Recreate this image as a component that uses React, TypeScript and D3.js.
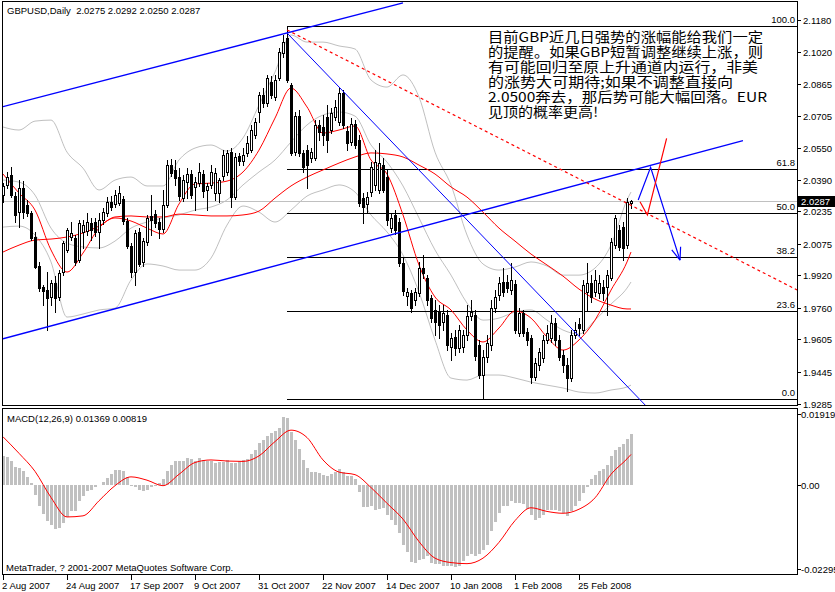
import React from "react";
import * as d3 from "d3";

// ---------- price data (GBPUSD daily) ----------
const open = [2.0316,2.0366,2.0415,2.0311,2.0232,2.0351,2.0267,2.0227,2.0109,1.9966,
1.9862,1.9847,1.9813,1.9882,1.9813,1.9936,2.0045,2.0109,2.0104,1.9995,
2.0134,2.0139,2.0178,2.0183,2.0134,2.0193,2.0227,2.0282,2.0272,2.0277,
2.0296,2.0188,2.0064,1.9936,2.0134,1.9986,2.0084,2.0213,2.0222,2.0183,
2.0148,2.0267,2.0464,2.0440,2.0405,2.0301,2.0380,2.0420,2.0356,2.0375,
2.0420,2.0341,2.0366,2.0326,2.0326,2.0410,2.0430,2.0528,2.0306,2.0509,
2.0484,2.0524,2.0538,2.0612,2.0726,2.0810,2.0770,2.0874,2.0800,2.0894,
2.1017,2.1091,2.0859,2.0528,2.0706,2.0524,2.0538,2.0499,2.0499,2.0662,
2.0652,2.0701,2.0637,2.0701,2.0677,2.0820,2.0632,2.0578,2.0667,2.0588,
2.0301,2.0272,2.0331,2.0366,2.0341,2.0464,2.0405,2.0153,2.0218,2.0183,
1.9981,1.9818,1.9833,1.9798,1.9833,1.9956,1.9907,1.9808,1.9749,1.9739,
1.9689,1.9724,1.9566,1.9615,1.9561,1.9566,1.9625,1.9719,1.9724,1.9576,
1.9428,1.9517,1.9576,1.9758,1.9823,1.9887,1.9887,1.9847,1.9877,1.9635,
1.9734,1.9640,1.9610,1.9418,1.9477,1.9512,1.9601,1.9610,1.9684,1.9601,
1.9526,1.9477,1.9413,1.9625,1.9680,1.9650,1.9837,1.9882,1.9837,1.9833,
1.9862,1.9862,1.9907,2.0069,2.0144,2.0158,2.0069,2.0275];
const high = [2.0375,2.0430,2.0454,2.0331,2.0390,2.0385,2.0292,2.0237,2.0134,1.9986,
1.9872,1.9936,1.9897,1.9916,1.9946,2.0089,2.0153,2.0183,2.0119,2.0193,
2.0193,2.0227,2.0203,2.0203,2.0227,2.0252,2.0306,2.0311,2.0341,2.0361,
2.0311,2.0203,2.0079,2.0144,2.0153,2.0104,2.0218,2.0316,2.0242,2.0203,
2.0341,2.0489,2.0494,2.0489,2.0449,2.0415,2.0449,2.0440,2.0405,2.0474,
2.0440,2.0375,2.0464,2.0449,2.0400,2.0538,2.0538,2.0548,2.0524,2.0524,
2.0548,2.0607,2.0662,2.0696,2.0825,2.0844,2.0909,2.0904,2.0909,2.1042,
2.1106,2.1150,2.0869,2.0726,2.0736,2.0538,2.0563,2.0548,2.0686,2.0686,
2.0711,2.0760,2.0746,2.0785,2.0844,2.0834,2.0657,2.0696,2.0686,2.0612,
2.0326,2.0331,2.0479,2.0538,2.0573,2.0499,2.0440,2.0222,2.0242,2.0203,
2.0005,1.9857,1.9847,1.9857,1.9986,2.0020,1.9921,1.9823,1.9798,1.9773,
1.9773,1.9749,1.9635,1.9650,1.9675,1.9650,1.9773,1.9798,1.9749,1.9601,
1.9551,1.9625,1.9798,1.9847,1.9911,1.9956,1.9921,1.9981,1.9897,1.9758,
1.9749,1.9660,1.9625,1.9512,1.9561,1.9625,1.9675,1.9724,1.9709,1.9625,
1.9551,1.9512,1.9650,1.9689,1.9709,1.9897,1.9981,1.9921,1.9946,1.9921,
1.9897,1.9946,2.0104,2.0218,2.0168,2.0183,2.0301,2.0292];
const low = [2.0282,2.0351,2.0306,2.0183,2.0158,2.0203,2.0213,2.0094,1.9956,1.9842,
1.9773,1.9650,1.9773,1.9739,1.9798,1.9921,2.0035,2.0094,1.9971,1.9986,
2.0055,2.0119,2.0094,2.0114,2.0055,2.0173,2.0213,2.0242,2.0257,2.0267,
2.0173,2.0055,1.9911,1.9872,1.9966,1.9966,2.0069,2.0119,2.0158,2.0104,
2.0134,2.0257,2.0410,2.0366,2.0292,2.0287,2.0301,2.0301,2.0242,2.0361,
2.0306,2.0242,2.0351,2.0292,2.0282,2.0390,2.0415,2.0257,2.0296,2.0464,
2.0464,2.0509,2.0528,2.0598,2.0677,2.0751,2.0756,2.0795,2.0785,2.0884,
2.0997,2.0874,2.0514,2.0514,2.0509,2.0430,2.0351,2.0479,2.0489,2.0588,
2.0563,2.0528,2.0622,2.0686,2.0662,2.0647,2.0538,2.0563,2.0548,2.0262,
2.0178,2.0232,2.0311,2.0341,2.0326,2.0331,2.0168,2.0134,2.0124,1.9966,
1.9823,1.9773,1.9739,1.9773,1.9818,1.9907,1.9773,1.9689,1.9625,1.9610,
1.9650,1.9551,1.9502,1.9526,1.9541,1.9541,1.9601,1.9699,1.9502,1.9413,
1.9310,1.9492,1.9551,1.9739,1.9798,1.9818,1.9837,1.9828,1.9635,1.9620,
1.9620,1.9576,1.9388,1.9403,1.9452,1.9492,1.9586,1.9591,1.9576,1.9502,
1.9443,1.9349,1.9398,1.9610,1.9625,1.9635,1.9749,1.9788,1.9818,1.9808,
1.9798,1.9724,1.9897,2.0055,2.0045,1.9995,2.0055,2.0250];
const close = [2.0361,2.0405,2.0316,2.0218,2.0351,2.0232,2.0227,2.0104,1.9961,1.9857,
1.9842,1.9808,1.9882,1.9808,1.9931,2.0079,2.0144,2.0129,1.9986,2.0178,
2.0168,2.0183,2.0144,2.0134,2.0193,2.0232,2.0282,2.0257,2.0316,2.0326,
2.0188,2.0064,1.9936,2.0129,1.9976,2.0089,2.0203,2.0193,2.0178,2.0148,
2.0267,2.0464,2.0425,2.0400,2.0311,2.0390,2.0420,2.0316,2.0380,2.0430,
2.0336,2.0361,2.0430,2.0425,2.0390,2.0514,2.0524,2.0306,2.0504,2.0484,
2.0514,2.0573,2.0637,2.0677,2.0810,2.0770,2.0894,2.0810,2.0884,2.1022,
2.1071,2.0884,2.0524,2.0706,2.0524,2.0454,2.0464,2.0528,2.0662,2.0627,
2.0612,2.0588,2.0721,2.0751,2.0820,2.0662,2.0573,2.0667,2.0563,2.0277,
2.0257,2.0306,2.0454,2.0479,2.0474,2.0341,2.0193,2.0203,2.0144,1.9981,
1.9842,1.9837,1.9758,1.9837,1.9956,1.9931,1.9798,1.9709,1.9689,1.9675,
1.9734,1.9576,1.9610,1.9561,1.9650,1.9625,1.9719,1.9739,1.9522,1.9428,
1.9517,1.9586,1.9758,1.9813,1.9882,1.9837,1.9857,1.9897,1.9650,1.9734,
1.9635,1.9601,1.9418,1.9487,1.9541,1.9601,1.9635,1.9684,1.9601,1.9517,
1.9477,1.9413,1.9625,1.9650,1.9660,1.9872,1.9882,1.9813,1.9897,1.9882,
1.9833,1.9921,2.0084,2.0203,2.0060,2.0055,2.0282,2.0287];

// ---------- indicators, sampled at these bar indices ----------
const sampleIdx = [0,4,8,12,16,20,24,28,32,36,40,44,48,52,56,60,64,68,72,76,80,84,88,92,96,100,104,108,112,116,120,124,128,132,136,140,144,148,152,156,157];
const fastMA = [2.0420,2.0326,2.0242,2.0045,1.9936,2.0030,2.0153,2.0203,2.0188,2.0153,2.0124,2.0272,2.0371,2.0375,2.0385,2.0430,2.0538,2.0696,2.0844,2.0751,2.0622,2.0637,2.0657,2.0489,2.0420,2.0218,1.9971,1.9813,1.9749,1.9650,1.9591,1.9660,1.9744,1.9709,1.9615,1.9551,1.9601,1.9699,1.9847,1.9986,2.0035];
const slowMA = [2.0035,2.0069,2.0094,2.0099,2.0109,2.0129,2.0163,2.0208,2.0213,2.0208,2.0208,2.0222,2.0218,2.0213,2.0213,2.0218,2.0237,2.0301,2.0361,2.0405,2.0440,2.0474,2.0504,2.0524,2.0519,2.0504,2.0464,2.0420,2.0356,2.0306,2.0232,2.0153,2.0089,2.0025,1.9971,1.9916,1.9852,1.9803,1.9773,1.9754,1.9754];
const bbUpper = [2.0652,2.0637,2.0681,2.0686,2.0528,2.0449,2.0341,2.0390,2.0405,2.0361,2.0361,2.0489,2.0548,2.0563,2.0533,2.0598,2.0760,2.0923,2.1106,2.1071,2.1071,2.1052,2.1037,2.0884,2.0849,2.0909,2.0800,2.0528,2.0366,2.0119,1.9976,1.9946,1.9961,1.9986,1.9966,1.9921,1.9921,1.9956,2.0069,2.0292,2.0331];
const bbMiddle = [2.0390,2.0380,2.0316,2.0153,2.0079,2.0060,2.0055,2.0089,2.0153,2.0183,2.0203,2.0218,2.0242,2.0257,2.0292,2.0366,2.0430,2.0489,2.0578,2.0662,2.0711,2.0726,2.0706,2.0563,2.0479,2.0361,2.0203,2.0045,1.9921,1.9783,1.9699,1.9709,1.9739,1.9749,1.9699,1.9650,1.9630,1.9699,1.9778,1.9857,1.9887];
const bbLower = [2.0158,2.0163,2.0119,1.9986,1.9714,1.9729,1.9749,1.9758,1.9897,1.9976,1.9966,1.9946,1.9946,2.0005,2.0168,2.0262,2.0232,2.0183,2.0242,2.0311,2.0341,2.0366,2.0331,2.0218,2.0134,2.0020,1.9837,1.9601,1.9413,1.9403,1.9428,1.9428,1.9413,1.9393,1.9378,1.9364,1.9344,1.9339,1.9354,1.9369,1.9378];

const macdHist = [0.0077,0.0075,0.0063,0.0047,0.0045,0.0036,0.0021,0.0005,-0.0027,-0.0057,
-0.0079,-0.0100,-0.0111,-0.0121,-0.0118,-0.0104,-0.0088,-0.0073,-0.0073,-0.0045,
-0.0032,-0.0018,-0.0014,-0.0006,0.0000,0.0006,0.0018,0.0030,0.0039,0.0041,
0.0036,0.0021,-0.0003,-0.0006,-0.0014,-0.0018,-0.0014,-0.0006,-0.0003,0.0005,
0.0014,0.0036,0.0052,0.0063,0.0063,0.0065,0.0073,0.0070,0.0063,0.0073,
0.0068,0.0063,0.0063,0.0059,0.0061,0.0062,0.0066,0.0059,0.0059,0.0065,
0.0066,0.0070,0.0084,0.0095,0.0113,0.0122,0.0131,0.0140,0.0145,0.0154,
0.0184,0.0181,0.0143,0.0122,0.0097,0.0068,0.0045,0.0034,0.0034,0.0032,
0.0027,0.0024,0.0030,0.0034,0.0043,0.0034,0.0023,0.0023,0.0014,-0.0021,
-0.0061,-0.0061,-0.0057,-0.0068,-0.0066,-0.0063,-0.0084,-0.0097,-0.0111,-0.0131,
-0.0163,-0.0184,-0.0210,-0.0213,-0.0204,-0.0202,-0.0195,-0.0213,-0.0216,-0.0216,
-0.0220,-0.0220,-0.0222,-0.0224,-0.0220,-0.0207,-0.0193,-0.0190,-0.0195,-0.0190,
-0.0177,-0.0163,-0.0127,-0.0102,-0.0077,-0.0059,-0.0059,-0.0045,-0.0050,-0.0050,
-0.0054,-0.0066,-0.0082,-0.0095,-0.0091,-0.0082,-0.0068,-0.0068,-0.0068,-0.0073,
-0.0077,-0.0086,-0.0073,-0.0057,-0.0045,-0.0023,-0.0006,0.0015,0.0027,0.0036,
0.0043,0.0054,0.0077,0.0095,0.0102,0.0109,0.0125,0.01369];
const macdSignal = [0.0130,0.0085,0.0036,-0.0035,-0.0088,-0.0085,-0.0044,-0.0003,0.0021,0.0012,-0.0003,0.0028,0.0060,0.0067,0.0064,0.0063,0.0078,0.0117,0.0148,0.0128,0.0067,0.0034,0.0027,-0.0008,-0.0051,-0.0094,-0.0155,-0.0200,-0.0212,-0.0215,-0.0200,-0.0157,-0.0098,-0.0063,-0.0073,-0.0078,-0.0067,-0.0036,0.0028,0.0070,0.00819];

// ---------- axes ----------
const priceTicks = [2.1180,2.1020,2.0865,2.0705,2.0550,2.0390,2.0235,2.0075,1.9920,1.9760,1.9605,1.9445,1.9285];
const priceTickLabels = ["2.1180","2.1020","2.0865","2.0705","2.0550","2.0390","2.0235","2.0075","1.9920","1.9760","1.9605","1.9445","1.9285"];
const macdTicks = [0.01919, 0, -0.02295];
const macdTickLabels = ["0.01919","0.00","-0.02295"];
const dateIdx = [0,16,32,48,64,80,96,112,128,144];
const dateLabels = ["2 Aug 2007","24 Aug 2007","17 Sep 2007","9 Oct 2007","31 Oct 2007","22 Nov 2007","14 Dec 2007","10 Jan 2008","1 Feb 2008","25 Feb 2008"];
const lastPrice = 2.0287;
const lastPriceLabel = "2.0287";

// ---------- drawn objects (bar index, price) ----------
const fibLevels = [0, 23.6, 38.2, 50, 61.8, 100];
const fibLabels = ["0.0","23.6","38.2","50.0","61.8","100.0"];
const channelUpper = [[0, 2.0752], [100, 2.1265]];
const channelLower = [[0, 1.9607], [185, 2.0585]];
const downTrend = [[71, 2.1116], [162, 1.9250]];
const redDotted = [[71, 2.1131], [198.5, 1.9848]];
const blueArrow = [[158.8, 2.0292], [161.9, 2.0453], [169.25, 1.9995]];
const blueArrowHeadA = [[167.2, 2.0045], [169.25, 1.9995]];
const blueArrowHeadB = [[169.4, 2.0061], [169.25, 1.9995]];
const redArrow = [[159.25, 2.0283], [161.1, 2.0218], [165.9, 2.0596]];

const titleText = "GBPUSD,Daily  2.0275 2.0292 2.0250 2.0287";
const macdTitle = "MACD(12,26,9) 0.01369 0.00819";
const copyright = "MetaTrader, ? 2001-2007 MetaQuotes Software Corp.";
const noteLines = [
  "目前GBP近几日强势的涨幅能给我们一定",
  "的提醒。如果GBP短暂调整继续上涨，则",
  "有可能回归至原上升通道内运行，非美",
  "的涨势大可期待;如果不调整直接向",
  "2.0500奔去，那后势可能大幅回落。EUR",
  "见顶的概率更高!",
];
const noteWidths = [275, 275, 270, 245, 279, 110];

const FONT = "'Liberation Sans', Arial, sans-serif";

export default function App() {
  const x = d3.scaleLinear().domain([0, 198.5]).range([3, 797]);
  const y = d3.scaleLinear().domain([1.9285, 2.118]).range([404, 20]);
  const ym = d3.scaleLinear().domain([-0.02295, 0.01919]).range([569, 414]);

  const ln = d3.line<number[]>().x(d => x(d[0])).y(d => y(d[1]));
  const smooth = (vals: number[]) =>
    d3.line<number>().x((_, k) => x(sampleIdx[k])).y(d => y(d)).curve(d3.curveMonotoneX)(vals) || "";
  const sig = d3.line<number>().x((_, k) => x(sampleIdx[k])).y(d => ym(d)).curve(d3.curveMonotoneX)(macdSignal) || "";

  const hiVal = d3.max(high) as number;
  const loVal = d3.min(low) as number;
  const hiIdx = high.indexOf(hiVal);

  return (
    <svg width={835} height={592} style={{ position: "absolute", left: 0, top: 0, background: "#fff" }}
      fontFamily={FONT}>
      <defs>
        <clipPath id="mainClip"><rect x={3} y={2} width={794} height={403} /></clipPath>
        <clipPath id="macdClip"><rect x={3} y={409} width={794} height={165} /></clipPath>
      </defs>
      <rect x={0} y={0} width={835} height={592} fill="#fff" />

      <g clipPath="url(#mainClip)">
        <line x1={3} x2={797} y1={Math.round(y(lastPrice)) + 0.5} y2={Math.round(y(lastPrice)) + 0.5} stroke="#c0c0c0" shapeRendering="crispEdges" />
        <path d={smooth(bbUpper)} fill="none" stroke="#c0c0c0" />
        <path d={smooth(bbMiddle)} fill="none" stroke="#c0c0c0" />
        <path d={smooth(bbLower)} fill="none" stroke="#c0c0c0" />
        {fibLevels.map((lv, k) => {
          const p = loVal + (hiVal - loVal) * lv / 100;
          const yy = Math.round(y(p)) + 0.5;
          return <line key={k} x1={x(hiIdx)} x2={797} y1={yy} y2={yy} stroke="#000" shapeRendering="crispEdges" />;
        })}
        <path d={smooth(slowMA)} fill="none" stroke="#ff0000" />
        <path d={smooth(fastMA)} fill="none" stroke="#ff0000" />
        <g shapeRendering="crispEdges">
          {open.map((o, i) => {
            const cx = Math.round(x(i));
            const c = close[i];
            const top = Math.round(y(Math.max(o, c)));
            const bot = Math.round(y(Math.min(o, c)));
            const bull = c >= o;
            return (
              <g key={i}>
                <line x1={cx + 0.5} x2={cx + 0.5} y1={Math.round(y(high[i]))} y2={Math.round(y(low[i])) + 1} stroke="#000" />
                <rect x={cx - 0.5} y={top + 0.5} width={2} height={Math.max(bot - top, 0)} fill={bull ? "#fff" : "#000"} stroke="#000" />
              </g>
            );
          })}
        </g>
        <path d={ln(channelUpper) || ""} fill="none" stroke="#0000ff" strokeWidth={1.3} />
        <path d={ln(channelLower) || ""} fill="none" stroke="#0000ff" strokeWidth={1.3} />
        <path d={ln(downTrend) || ""} fill="none" stroke="#0000ff" strokeWidth={1} />
        <path d={ln(redDotted) || ""} fill="none" stroke="#ff0000" strokeWidth={1.2} strokeDasharray="3,3" />
        <path d={ln(blueArrow) || ""} fill="none" stroke="#0000ff" strokeWidth={1.2} />
        <path d={ln(blueArrowHeadA) || ""} fill="none" stroke="#0000ff" strokeWidth={1.2} />
        <path d={ln(blueArrowHeadB) || ""} fill="none" stroke="#0000ff" strokeWidth={1.2} />
        <path d={ln(redArrow) || ""} fill="none" stroke="#ff0000" strokeWidth={1.2} />
        {fibLevels.map((lv, k) => {
          const p = loVal + (hiVal - loVal) * lv / 100;
          return <text key={k} x={795} y={y(p) - 3} textAnchor="end" fontSize={9.5} fill="#000">{fibLabels[k]}</text>;
        })}
        {noteLines.map((t, k) => (
          <text key={k} x={488} y={36 + 15 * k} dominantBaseline="central" fontSize={13.5}
            fontFamily="'Noto Sans CJK SC', sans-serif" textLength={noteWidths[k]} lengthAdjust="spacingAndGlyphs" fill="#000">{t}</text>
        ))}
      </g>

      <g clipPath="url(#macdClip)">
        <g shapeRendering="crispEdges">
          {macdHist.map((v, i) => {
            const cx = Math.round(x(i));
            const y0 = Math.round(ym(0));
            const y1 = Math.round(ym(v));
            return <rect key={i} x={cx - 1} y={Math.min(y0, y1)} width={3} height={Math.abs(y1 - y0)} fill="#c0c0c0" />;
          })}
        </g>
        <path d={sig} fill="none" stroke="#ff0000" />
      </g>

      <g shapeRendering="crispEdges" stroke="#000" fill="none">
        <rect x={2.5} y={1.5} width={795} height={404} />
        <rect x={2.5} y={408.5} width={795} height={166} />
      </g>

      {priceTicks.map((p, k) => {
        const yy = Math.round(y(p)) + 0.5;
        return (
          <g key={k}>
            <line x1={797} x2={801} y1={yy} y2={yy} stroke="#000" shapeRendering="crispEdges" />
            <text x={803} y={yy} dominantBaseline="central" fontSize={9.5} fill="#000">{priceTickLabels[k]}</text>
          </g>
        );
      })}
      <rect x={798} y={Math.round(y(lastPrice)) - 5} width={37} height={11} fill="#000" />
      <text x={801} y={Math.round(y(lastPrice)) + 0.5} dominantBaseline="central" fontSize={9.5} fill="#fff">{lastPriceLabel}</text>

      {macdTicks.map((v, k) => {
        const yy = Math.round(ym(v)) + 0.5;
        return (
          <g key={k}>
            <line x1={797} x2={801} y1={yy} y2={yy} stroke="#000" shapeRendering="crispEdges" />
            <text x={801} y={yy} dominantBaseline="central" fontSize={9.5} fill="#000">{macdTickLabels[k]}</text>
          </g>
        );
      })}

      {dateIdx.map((i, k) => {
        const xx = Math.round(x(i)) + 0.5;
        return (
          <g key={k}>
            <line x1={xx} x2={xx} y1={575} y2={580} stroke="#000" shapeRendering="crispEdges" />
            <text x={xx - 1.5} y={585} dominantBaseline="central" fontSize={9.5} fill="#000">{dateLabels[k]}</text>
          </g>
        );
      })}

      <text x={7} y={10} dominantBaseline="central" fontSize={9.5} fill="#000" style={{ whiteSpace: "pre" }}>{titleText}</text>
      <text x={7} y={418} dominantBaseline="central" fontSize={9.5} fill="#000">{macdTitle}</text>
      <text x={6} y={567} dominantBaseline="central" fontSize={9.5} fill="#000">{copyright}</text>
    </svg>
  );
}
